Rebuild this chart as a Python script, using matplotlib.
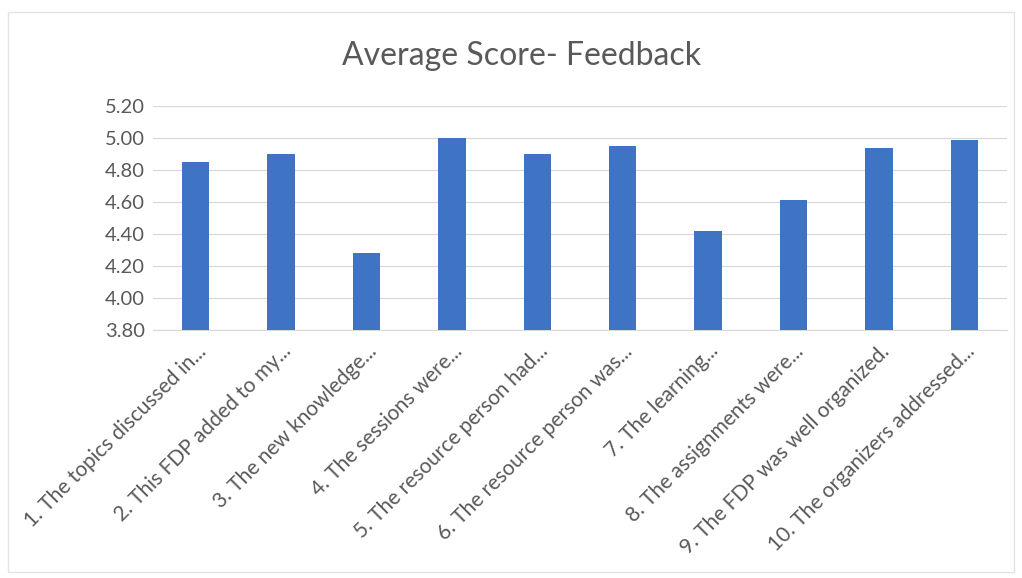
import numpy as np
from matplotlib import pyplot as plt
from matplotlib.patches import Rectangle

questions = [
    "1. The topics discussed in...",
    "2. This FDP added to my...",
    "3. The new knowledge...",
    "4. The sessions were...",
    "5. The resource person had...",
    "6. The resource person was...",
    "7. The learning...",
    "8. The assignments were...",
    "9. The FDP was well organized.",
    "10. The organizers addressed...",
]
avg_scores = [4.85, 4.90, 4.28, 5.00, 4.90, 4.95, 4.42, 4.61, 4.94, 4.99]
y_ticks = [3.80, 4.00, 4.20, 4.40, 4.60, 4.80, 5.00, 5.20]

plt.rcParams["font.family"] = ["Lato", "DejaVu Sans"]
text_color = "#595959"

fig = plt.figure(figsize=(10.22, 5.78), dpi=100)
ax = fig.add_axes([153 / 1022, 1 - 330 / 578, 854 / 1022, 224 / 578])

x = np.arange(len(questions))
ax.bar(x, avg_scores, width=0.32, bottom=0, color="#3F74C4", zorder=3)

ax.set_ylim(y_ticks[0], y_ticks[-1])
ax.set_xlim(-0.5, len(questions) - 0.5)
ax.set_yticks(y_ticks)
ax.set_yticklabels([f"{v:.2f}" for v in y_ticks], fontsize=14.5, color=text_color)
ax.set_xticks(x)
ax.set_xticklabels(questions, rotation=45, ha="right", rotation_mode="anchor",
                   fontsize=15, color=text_color)
ax.tick_params(axis="both", length=0)
ax.tick_params(axis="y", pad=6)
ax.tick_params(axis="x", pad=8)

ax.grid(axis="y", color="#d9d9d9", linewidth=0.9, zorder=0)
for side in ["top", "right", "left"]:
    ax.spines[side].set_visible(False)
ax.spines["bottom"].set_color("#d9d9d9")

fig.text(522 / 1022, 1 - 56 / 578, "Average Score- Feedback", ha="center", va="center",
         fontsize=23, color=text_color)

# faint chart-area border
fig.patches.append(Rectangle((8 / 1022, 6 / 578), 1006 / 1022, 560 / 578,
                             transform=fig.transFigure, fill=False,
                             edgecolor="#e3e3e3", linewidth=1))

fig.savefig("out.png", dpi=100)
